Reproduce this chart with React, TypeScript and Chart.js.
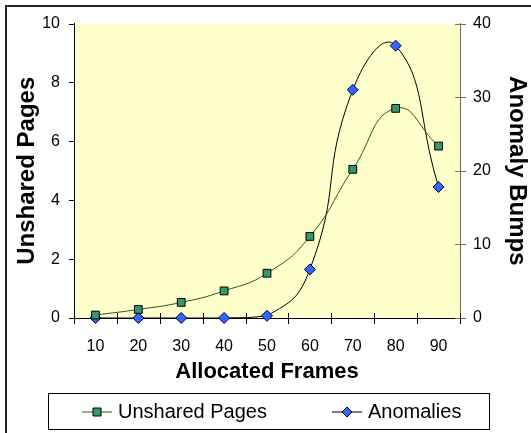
import React, { useEffect, useRef } from "react";
import { Chart, registerables } from "chart.js";

Chart.register(...registerables);

const categories = ["10", "20", "30", "40", "50", "60", "70", "80", "90"];
const unsharedPages = [0.1, 0.29, 0.53, 0.92, 1.52, 2.77, 5.05, 7.12, 5.84];
const anomalies = [0, 0, 0, 0, 0.3, 6.6, 31, 37, 17.8];
const leftTitle = "Unshared Pages";
const rightTitle = "Anomaly Bumps";
const xTitle = "Allocated Frames";
const seriesNames = ["Unshared Pages", "Anomalies"];

const FONT = "'Liberation Sans', Arial, sans-serif";
const GREEN_LINE = "#1E5A1E";
const GREEN_FILL = "#339966";
const BLUE_FILL = "#3366FF";
const PLOT_BG = "#FFFFCC";
const RIGHT_AXIS = "#707060";

const decorPlugin = {
  id: "decor",
  beforeDraw(chart: any) {
    const { ctx, chartArea: a } = chart;
    ctx.save();
    ctx.fillStyle = "#ffffff";
    ctx.fillRect(0, 0, chart.width, chart.height);
    ctx.fillStyle = PLOT_BG;
    ctx.fillRect(a.left, a.top, a.right - a.left, a.bottom - a.top);
    ctx.strokeStyle = "#222222";
    ctx.lineWidth = 2;
    ctx.beginPath();
    ctx.moveTo(6, chart.height);
    ctx.lineTo(6, 6);
    ctx.lineTo(chart.width, 6);
    ctx.stroke();
    ctx.restore();
  },
  beforeDatasetsDraw(chart: any) {
    const { ctx, chartArea: a, scales } = chart;
    ctx.save();
    ctx.lineWidth = 1;
    const xs = scales.x;
    const n = categories.length;
    const half = (xs.getPixelForTick(1) - xs.getPixelForTick(0)) / 2;
    ctx.strokeStyle = "#000";
    ctx.beginPath();
    for (let i = 0; i <= n; i++) {
      const px = Math.round(i < n ? xs.getPixelForTick(i) - half : xs.getPixelForTick(n - 1) + half) + 0.5;
      ctx.moveTo(px, a.bottom - 5);
      ctx.lineTo(px, a.bottom + 6);
    }
    ctx.stroke();
    const ys = scales.y;
    ctx.beginPath();
    ys.ticks.forEach((t: any) => {
      const py = Math.round(ys.getPixelForValue(t.value)) + 0.5;
      ctx.moveTo(a.left - 5, py);
      ctx.lineTo(a.left, py);
    });
    ctx.stroke();
    const y2 = scales.y2;
    ctx.strokeStyle = RIGHT_AXIS;
    ctx.beginPath();
    y2.ticks.forEach((t: any) => {
      const py = Math.round(y2.getPixelForValue(t.value)) + 0.5;
      ctx.moveTo(a.right - 5, py);
      ctx.lineTo(a.right + 6, py);
    });
    ctx.stroke();
    ctx.restore();
  },
  afterDraw(chart: any) {
    const { ctx } = chart;
    ctx.save();
    const bx = 48, by = 393, bw = 441, bh = 36;
    ctx.strokeStyle = "#000";
    ctx.lineWidth = 1;
    ctx.strokeRect(bx + 0.5, by + 0.5, bw, bh);
    const cy = by + bh / 2 + 1;
    const items = [
      { x: bx + 34, line: GREEN_LINE, fill: GREEN_FILL, shape: "rect" },
      { x: bx + 284, line: "#000000", fill: BLUE_FILL, shape: "diamond" },
    ];
    items.forEach((it, i) => {
      ctx.strokeStyle = it.line;
      ctx.lineWidth = 1;
      ctx.beginPath();
      ctx.moveTo(it.x, cy);
      ctx.lineTo(it.x + 30, cy);
      ctx.stroke();
      const mx = it.x + 15;
      ctx.fillStyle = it.fill;
      ctx.strokeStyle = "#000";
      ctx.beginPath();
      if (it.shape === "rect") {
        ctx.rect(mx - 4, cy - 4, 8, 8);
      } else {
        ctx.moveTo(mx, cy - 5);
        ctx.lineTo(mx + 5, cy);
        ctx.lineTo(mx, cy + 5);
        ctx.lineTo(mx - 5, cy);
        ctx.closePath();
      }
      ctx.fill();
      ctx.stroke();
      ctx.fillStyle = "#000";
      ctx.font = `20px ${FONT}`;
      ctx.textBaseline = "middle";
      ctx.textAlign = "left";
      ctx.fillText(seriesNames[i], it.x + 36, cy);
    });
    ctx.restore();
  },
};

export default function App() {
  const ref = useRef<HTMLCanvasElement>(null);

  useEffect(() => {
    if (!ref.current) return;
    const chart = new Chart(ref.current, {
      type: "line",
      data: {
        labels: categories,
        datasets: [
          {
            label: seriesNames[0],
            data: unsharedPages,
            yAxisID: "y",
            borderColor: GREEN_LINE,
            borderWidth: 1,
            backgroundColor: GREEN_FILL,
            pointStyle: "rect",
            pointRadius: 5.5,
            pointBorderColor: "#000",
            pointBorderWidth: 1,
            pointBackgroundColor: GREEN_FILL,
            tension: 0.5,
            clip: false,
          },
          {
            label: seriesNames[1],
            data: anomalies,
            yAxisID: "y2",
            borderColor: "#000000",
            borderWidth: 1,
            backgroundColor: BLUE_FILL,
            pointStyle: "rectRot",
            pointRadius: 5.5,
            pointBorderColor: "#000033",
            pointBorderWidth: 1,
            pointBackgroundColor: BLUE_FILL,
            tension: 0.5,
            clip: false,
          },
        ],
      },
      options: {
        responsive: false,
        animation: false,
        layout: { padding: { top: 23, bottom: 48, left: 0, right: 0 } },
        plugins: { legend: { display: false }, tooltip: { enabled: false } },
        scales: {
          x: {
            type: "category",
            offset: true,
            grid: { display: false, drawTicks: false },
            border: { display: true, color: "#000", width: 1 },
            ticks: { color: "#000", font: { family: FONT, size: 16 }, padding: 19, maxRotation: 0 },
            title: { display: true, text: xTitle, color: "#000", font: { family: FONT, size: 22, weight: "bold" }, padding: 0 },
            afterFit: (s: any) => { s.height = 67; },
          },
          y: {
            position: "left",
            min: 0,
            max: 10,
            ticks: { stepSize: 2, color: "#000", font: { family: FONT, size: 16 }, padding: 14 },
            grid: { display: false, drawTicks: false },
            border: { display: true, color: "#000", width: 1 },
            title: { display: true, text: leftTitle, color: "#000", font: { family: FONT, size: 24, weight: "bold" }, padding: { top: 13, bottom: 0 } },
            afterFit: (s: any) => { s.width = 74; },
          },
          y2: {
            position: "right",
            min: 0,
            max: 40,
            ticks: { stepSize: 10, color: "#000", font: { family: FONT, size: 16 }, padding: 13 },
            grid: { display: false, drawTicks: false },
            border: { display: true, color: RIGHT_AXIS, width: 1 },
            title: { display: true, text: rightTitle, color: "#000", font: { family: FONT, size: 24, weight: "bold" }, padding: { top: 0, bottom: 0 } },
            afterFit: (s: any) => { s.width = 71; },
          },
        },
      },
      plugins: [decorPlugin],
    } as any);
    return () => chart.destroy();
  }, []);

  return (
    <div style={{ position: "absolute", left: 0, top: 0, width: 531, height: 433 }}>
      <canvas ref={ref} width={531} height={433} style={{ display: "block", width: 531, height: 433 }} />
    </div>
  );
}
